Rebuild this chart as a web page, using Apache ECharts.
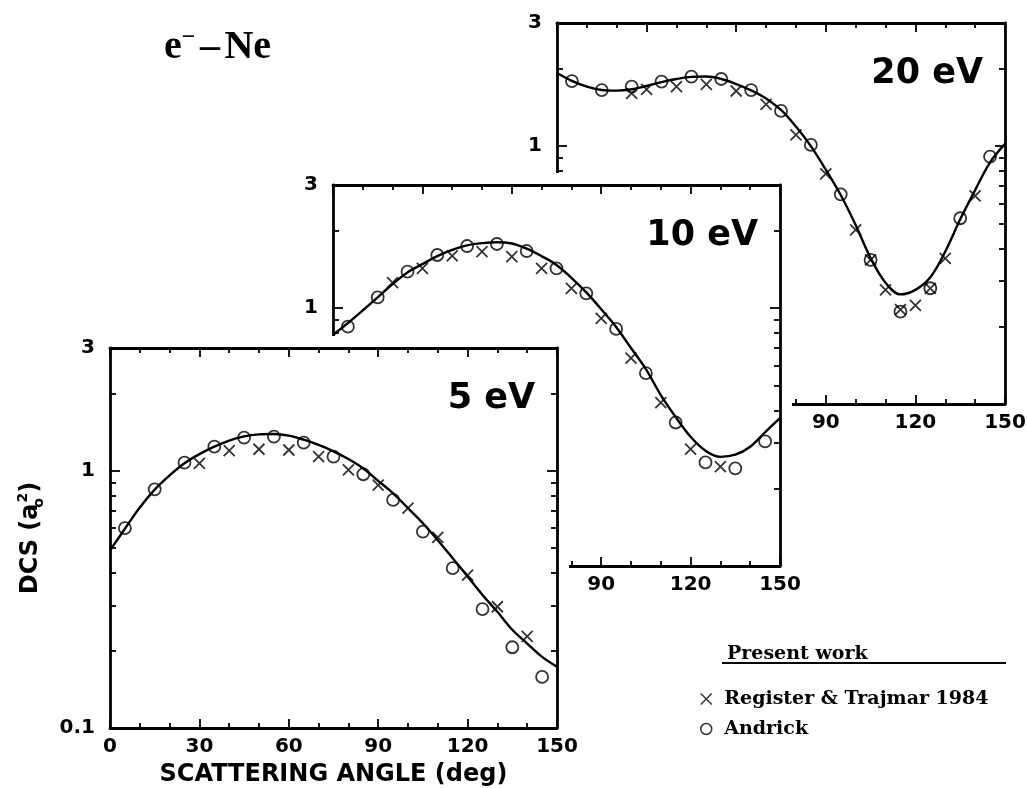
<!DOCTYPE html>
<html><head><meta charset="utf-8">
<script src="https://cdn.jsdelivr.net/npm/echarts@6/dist/echarts.min.js"></script>
<style>html,body{margin:0;padding:0;background:#fff}#c{width:1027px;height:788px}</style>
</head><body><div id="c"></div>
<script>
// ---------------- data ----------------
const panelLabels = ['5 eV', '10 eV', '20 eV'];
const curveAngles = [0,5,10,15,20,25,30,35,40,45,50,55,60,65,70,75,80,85,90,95,100,105,110,115,120,125,130,135,140,145,150];
const theory5  = [0.49,0.595,0.72,0.845,0.96,1.07,1.16,1.24,1.31,1.36,1.385,1.39,1.37,1.32,1.26,1.19,1.11,1.02,0.913,0.817,0.716,0.625,0.537,0.457,0.388,0.329,0.283,0.241,0.213,0.189,0.173];
const theory10 = [0.786,0.875,0.98,1.10,1.24,1.375,1.48,1.59,1.68,1.75,1.785,1.80,1.78,1.70,1.59,1.47,1.31,1.15,0.99,0.845,0.70,0.58,0.46,0.378,0.317,0.28,0.265,0.27,0.29,0.33,0.374];
const theory20 = [1.92,1.79,1.70,1.65,1.64,1.66,1.71,1.77,1.82,1.855,1.86,1.82,1.74,1.645,1.53,1.38,1.19,1.00,0.81,0.646,0.494,0.368,0.295,0.266,0.277,0.31,0.39,0.52,0.675,0.865,1.02];

const andrickAngles = [5,15,25,35,45,55,65,75,85,95,105,115,125,135,145];
const andrick5  = [0.598,0.847,1.075,1.24,1.344,1.356,1.286,1.134,0.969,0.770,0.580,0.418,0.290,0.206,0.158];
const andrick10 = [0.847,1.101,1.384,1.606,1.74,1.772,1.664,1.426,1.141,0.830,0.559,0.360,0.252,0.239,0.304];
const andrick20 = [1.787,1.649,1.70,1.777,1.858,1.82,1.649,1.368,1.01,0.650,0.362,0.228,0.281,0.525,0.910];

const rtAngles5  = [30,40,50,60,70,80,90,100,110,120,130,140];
const rt5        = [1.069,1.197,1.212,1.204,1.134,1.007,0.880,0.715,0.551,0.393,0.296,0.227];
const rtAngles10 = [20,30,40,50,60,70,80,90,100,110,120,130];
const rt10       = [1.254,1.426,1.592,1.654,1.582,1.426,1.193,0.912,0.639,0.430,0.284,0.243];
const rtAngles20 = [25,30,40,50,60,70,80,90,100,105,110,115,120,125,130,140];
const rt20       = [1.601,1.66,1.70,1.736,1.635,1.452,1.104,0.780,0.473,0.362,0.277,0.232,0.241,0.281,0.367,0.641];

const xTickValues = [0,30,60,90,120,150];
const yLabelValues = [0.1,1,3];
const yMajorTickValues = [1];
const yMinorTickValues = [0.2,0.3,0.4,0.5,0.6,0.7,0.8,0.9,2];

const RT = 'Register & Trajmar 1984';
const AN = 'Andrick';
const CROSS = 'path://M0,0L10,10M10,0L0,10';

// ---------------- layout ----------------
const panels = [
  {label: panelLabels[0], curve: theory5,  an: andrick5,  rtX: rtAngles5,  rt: rt5,  rect: [110, 348, 447, 380], z: 20},
  {label: panelLabels[1], curve: theory10, an: andrick10, rtX: rtAngles10, rt: rt10, rect: [333, 185, 447, 381], z: 10},
  {label: panelLabels[2], curve: theory20, an: andrick20, rtX: rtAngles20, rt: rt20, rect: [557, 23, 448, 381], z: 1}
];

const SANS = 'DejaVu Sans';
const SERIF = 'DejaVu Serif';
const tickLine = {color: '#000', width: 1.8};
const frameLine = {show: true, onZero: false, lineStyle: {color: '#000', width: 2.8}};
const tickFont = {show: true, color: '#000', fontFamily: SANS, fontWeight: 'bold', fontSize: 20};

const grid = [], xAxis = [], yAxis = [], series = [], title = [];

panels.forEach((p, i) => {
  const [l, t, w, h] = p.rect;
  grid.push({left: l, top: t, width: w, height: h, show: true, backgroundColor: '#fff',
    borderColor: '#fff', borderWidth: 24, z: p.z, outerBoundsMode: 'none', containLabel: false});

  ['bottom', 'top'].forEach(pos => {
    const ax = {
      type: 'value', gridIndex: i, position: pos, min: 0, max: 150, interval: 30, z: p.z + 3,
      axisLine: frameLine,
      axisTick: {show: true, inside: true, length: 9, lineStyle: tickLine},
      minorTick: {show: true, splitNumber: 3, length: 5, lineStyle: tickLine},
      splitLine: {show: false}, minorSplitLine: {show: false},
      axisLabel: pos === 'bottom' ? Object.assign({margin: 9, customValues: xTickValues}, tickFont) : {show: false},
      nameMoveOverlap: false
    };
    if (i === 0 && pos === 'bottom') {
      ax.name = 'SCATTERING ANGLE (deg)';
      ax.nameLocation = 'middle';
      ax.nameGap = 35;
      ax.nameTextStyle = {color: '#000', fontFamily: SANS, fontWeight: 'bold', fontSize: 24, lineHeight: 24};
    }
    xAxis.push(ax);
  });

  ['left', 'right'].forEach(pos => {
    ['major', 'minor'].forEach(kind => {
      const ax = {
        type: 'log', logBase: 10, gridIndex: i, position: pos, min: 0.1, max: 3, z: p.z + 3,
        splitLine: {show: false}, nameMoveOverlap: false
      };
      if (kind === 'major') {
        ax.axisLine = frameLine;
        ax.axisTick = {show: true, inside: true, length: 10, customValues: yMajorTickValues, lineStyle: tickLine};
        ax.axisLabel = pos === 'left' ? Object.assign({margin: 15, customValues: yLabelValues}, tickFont) : {show: false};
        if (i === 0 && pos === 'left') {
          ax.name = '{t|DCS (a}{o|o}{s|2}{t|)}';
          ax.nameLocation = 'middle';
          ax.nameRotate = 90;
          ax.nameGap = 64;
          ax.nameTextStyle = {color: '#000', rich: {
            t: {fontFamily: SANS, fontWeight: 'bold', fontSize: 24, lineHeight: 30, color: '#000'},
            o: {fontFamily: SANS, fontWeight: 'bold', fontSize: 14, lineHeight: 14, verticalAlign: 'bottom', width: 1, color: '#000'},
            s: {fontFamily: SANS, fontWeight: 'bold', fontSize: 14, lineHeight: 14, verticalAlign: 'top', color: '#000'}
          }};
        }
      } else {
        ax.axisLine = {show: false, onZero: false};
        ax.axisTick = {show: true, inside: true, length: 6, customValues: yMinorTickValues, lineStyle: tickLine};
        ax.axisLabel = {show: false};
      }
      yAxis.push(ax);
    });
  });

  const xi = 2 * i, yi = 4 * i;
  series.push({
    type: 'line', name: 'Present work', xAxisIndex: xi, yAxisIndex: yi,
    data: curveAngles.map((a, k) => [a, p.curve[k]]),
    smooth: 0.35, symbol: 'none', showSymbol: false,
    lineStyle: {color: '#000', width: 2.4}, z: p.z + 1, silent: true
  });
  const markStyle = {color: 'rgba(0,0,0,0)', borderColor: '#000', borderWidth: 1.8};
  series.push({
    type: 'scatter', name: RT, xAxisIndex: xi, yAxisIndex: yi,
    data: p.rtX.map((a, k) => [a, p.rt[k]]),
    symbol: CROSS, symbolSize: 11, itemStyle: markStyle, z: p.z + 2, silent: true
  });
  series.push({
    type: 'scatter', name: AN, xAxisIndex: xi, yAxisIndex: yi,
    data: andrickAngles.map((a, k) => [a, p.an[k]]),
    symbol: 'circle', symbolSize: 12, itemStyle: markStyle, z: p.z + 2, silent: true
  });

  title.push({
    text: p.label, right: 1027 - (l + w - 22), top: t + 31, padding: 0, z: 60,
    textStyle: {fontFamily: SANS, fontWeight: 'bold', fontSize: 35, lineHeight: 40, color: '#000'}
  });
});

title.push({
  text: '{b|e}{s|\u2212}{g| }{b|\u2013}{g| }{b|Ne}', left: 164, top: 26, padding: 0, z: 60,
  textStyle: {rich: {
    b: {fontFamily: 'Liberation Serif', fontWeight: 'bold', fontSize: 40, lineHeight: 44, color: '#000'},
    s: {fontFamily: 'Liberation Serif', fontWeight: 'bold', fontSize: 24, lineHeight: 28, verticalAlign: 'top', color: '#000'},
    g: {fontFamily: 'Liberation Serif', fontSize: 18, lineHeight: 44, color: '#000'}
  }}
});
title.push({
  text: 'Present work', left: 727, top: 644, padding: 0, z: 60,
  textStyle: {fontFamily: SERIF, fontWeight: 'bold', fontSize: 19, lineHeight: 20, color: '#000'}
});

const option = {
  animation: false,
  backgroundColor: '#fff',
  grid, xAxis, yAxis, series, title,
  legend: {
    orient: 'vertical', left: 700, top: 689, itemWidth: 16, itemHeight: 11, itemGap: 10,
    selectedMode: false, z: 60, padding: 0,
    textStyle: {fontFamily: SERIF, fontWeight: 'bold', fontSize: 19, lineHeight: 20, color: '#000', padding: [0, 0, 0, 5]},
    data: [
      {name: RT, icon: CROSS, itemStyle: {color: 'rgba(0,0,0,0)', borderColor: '#000', borderWidth: 1.5}},
      {name: AN, icon: 'circle', itemStyle: {color: 'rgba(0,0,0,0)', borderColor: '#000', borderWidth: 1.5}}
    ]
  },
  graphic: [{
    type: 'line', z: 60, silent: true,
    shape: {x1: 722, y1: 663, x2: 1006, y2: 663},
    style: {stroke: '#000', lineWidth: 2.2}
  }]
};

const chart = echarts.init(document.getElementById('c'), null, {renderer: 'canvas'});
chart.setOption(option);
</script>
</body></html>
